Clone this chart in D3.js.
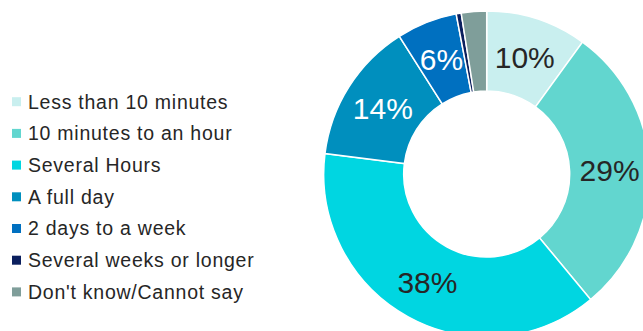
<!DOCTYPE html>
<html>
<head>
<meta charset="utf-8">
<script src="https://cdn.jsdelivr.net/npm/d3@7/dist/d3.min.js"></script>
<style>
  html, body { margin: 0; padding: 0; background: #ffffff; }
  svg { display: block; }
</style>
</head>
<body>
<svg id="chart" width="643" height="331"></svg>
<script>
// Time to resolve, share of responses (%)
const categories = [
  "Less than 10 minutes",
  "10 minutes to an hour",
  "Several Hours",
  "A full day",
  "2 days to a week",
  "Several weeks or longer",
  "Don't know/Cannot say"
];
const values = [10, 29, 38, 14, 6, 0.5, 2.5];
const labels = ["10%", "29%", "38%", "14%", "6%", "", ""];
const colors = ["#c9efef", "#62d6cf", "#00d6e1", "#008fbe", "#0070c0", "#0b1f5e", "#7f9e9a"];
const labelColors = ["#262626", "#262626", "#262626", "#ffffff", "#ffffff", "#ffffff", "#ffffff"];

const svg = d3.select("#chart");
const cx = 486.7, cy = 174;
const outerR = 163, innerR = 83;

const pie = d3.pie().sort(null).value(d => d.value);
const arc = d3.arc().innerRadius(innerR).outerRadius(outerR);
const data = categories.map((c, i) => ({ name: c, value: values[i], i }));
const arcs = pie(data);

const g = svg.append("g").attr("transform", `translate(${cx},${cy})`);
g.selectAll("path")
  .data(arcs)
  .join("path")
  .attr("d", arc)
  .attr("fill", d => colors[d.data.i])
  .attr("stroke", "#ffffff")
  .attr("stroke-width", 1.5);

g.selectAll("text")
  .data(arcs.filter(d => labels[d.data.i]))
  .join("text")
  .attr("transform", d => `translate(${arc.centroid(d)})`)
  .attr("text-anchor", "middle")
  .attr("dy", "0.36em")
  .attr("font-family", "'Liberation Sans', Arial, sans-serif")
  .attr("font-size", 30)
  .attr("fill", d => labelColors[d.data.i])
  .text(d => labels[d.data.i]);

// Legend
const legend = svg.append("g").attr("transform", "translate(12,101.7)");
const rowH = 31.7;
const items = legend.selectAll("g")
  .data(categories)
  .join("g")
  .attr("transform", (d, i) => `translate(0,${i * rowH})`);
items.append("rect")
  .attr("x", 0).attr("y", -4.5)
  .attr("width", 9).attr("height", 9)
  .attr("fill", (d, i) => colors[i]);
items.append("text")
  .attr("x", 16)
  .attr("dy", "0.35em")
  .attr("font-family", "'Liberation Sans', Arial, sans-serif")
  .attr("font-size", 19.5)
  .attr("letter-spacing", 0.75)
  .attr("fill", "#262626")
  .text(d => d);
</script>
</body>
</html>
